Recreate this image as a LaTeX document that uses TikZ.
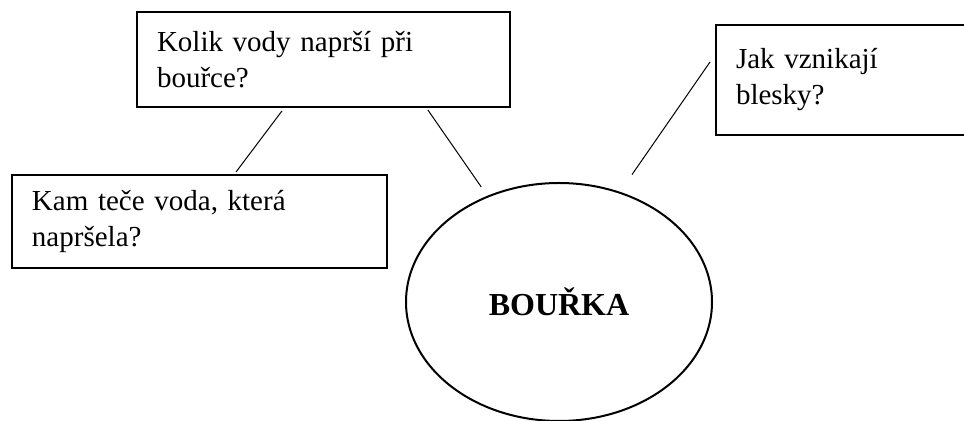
\documentclass[tikz,border=0pt]{standalone}
\usepackage{fontspec}
\setmainfont{Liberation Serif}
\usepackage{tikz}
\usetikzlibrary{shapes.geometric,positioning}
\tikzset{question/.style={rectangle,draw,line width=1pt,inner xsep=10pt,inner ysep=0pt,align=left,font=\fontsize{14.5}{18}\selectfont},
  topic/.style={ellipse,draw,line width=1pt,inner sep=0pt,font=\bfseries\fontsize{16}{19}\selectfont}}

\begin{document}
\begin{tikzpicture}[x=0.5pt,y=-0.5pt]
                   \useasboundingbox (0,0) rectangle (964,421);
                   \clip (0,0) rectangle (964,421);
                   \node[question,text width=166.5pt,minimum height=47.5pt] (q_kolik) at (323.5,59.5) {Kolik vody naprší při\\bouřce?};
                   \node[question,text width=167.5pt,minimum height=46.5pt] (q_kam) at (199.5,221.5) {Kam teče voda, která\\napršela?};
                   \node[question,text width=112pt,minimum height=55pt] (q_blesky) at (848,80) {Jak vznikají\\blesky?};
                   \node[topic,minimum width=153pt,minimum height=119pt] (bourka) at (559,302) {BOUŘKA};
                    \path[line width=0.5pt]
                    ([xshift=17.5pt]q_kam.north) edge [shorten <=1.25pt,shorten >=1.85pt] ([xshift=-19.65pt]q_kolik.south)
                    ([xshift=51.5pt]q_kolik.south) edge [shorten <=1.2pt,shorten >=5.4pt] (bourka.124)
                    (bourka.61) edge [shorten <=10.5pt,shorten >=4.4pt] ([yshift=12.6pt]q_blesky.west);
                \end{tikzpicture}
\end{document}
